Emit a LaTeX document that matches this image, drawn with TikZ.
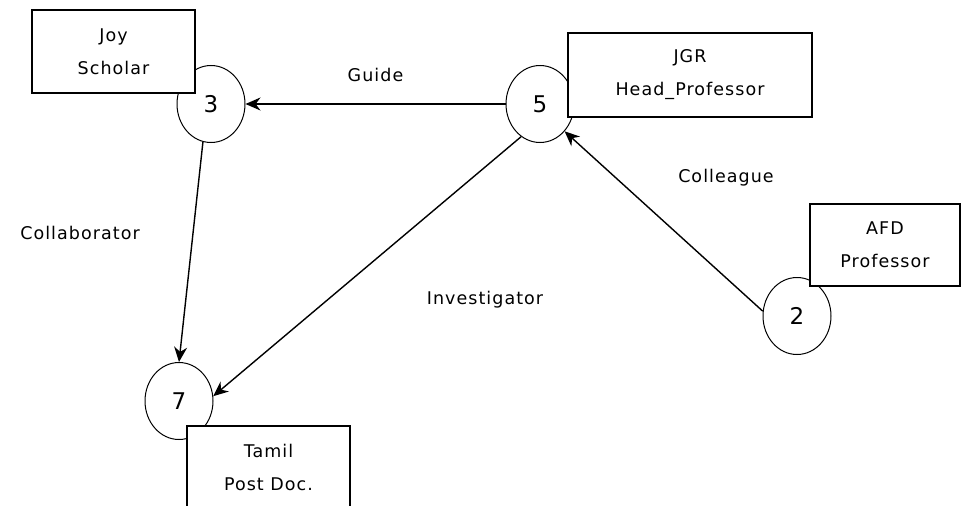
\documentclass[tikz,border=0pt]{standalone}
\usepackage{fontspec}
\setmainfont{DejaVu Sans}[LetterSpace=6]
\usepackage{tikz}
\usetikzlibrary{shapes.geometric, arrows.meta}
\tikzstyle{vertex} = [ellipse, minimum width=68pt, minimum
height=77pt, draw=black, line width=1pt, font=\fontsize{23}{28}\selectfont]
\tikzstyle{person} = [rectangle, draw=black, fill=white, line width=1.2pt,
text centered, align=center, font=\fontsize{17.5}{33}\selectfont]
\tikzstyle{rel} = [font=\fontsize{17.5}{20}\selectfont]
\tikzstyle{arrow} =
[line width=1.4pt,-{Stealth[length=15pt,width=13pt]}]

\begin{document}
\begin{tikzpicture}[x=1pt, y=-1pt]
\useasboundingbox (0,0) rectangle (962,506);

\node(c3)[vertex] at (211,104){3};
\node(c5)[vertex] at (540,104){5};
\node(c2)[vertex] at (797,316){2};
\node(c7)[vertex] at (179,401){7};

\node(joy)[person, minimum width=163pt, minimum height=83pt] at
(113.5,51.5){Joy\\Scholar};
\node(jgr)[person, minimum width=244pt, minimum height=84pt] at
(690,75){JGR\\Head\_Professor};
\node(afd)[person, minimum width=150pt, minimum height=82pt] at
(885,245){AFD\\Professor};
\node(tamil)[person, minimum width=163pt, minimum height=82pt] at
(268.5,467){Tamil\\Post Doc.};

\draw[arrow](c5) -- node[rel, above=18pt]{Guide}(c3);
\draw[arrow](c3.258) -- (c7.north);
\draw[arrow](c5.240) -- (c7.8);
\draw[arrow](c2.172) -- (c5.-48);

\node(collab)[rel] at (80,233){Collaborator};
\node(invest)[rel] at (485,300){Investigator};
\node(colleague)[rel] at (726,178){Colleague};

\end{tikzpicture}
\end{document}
